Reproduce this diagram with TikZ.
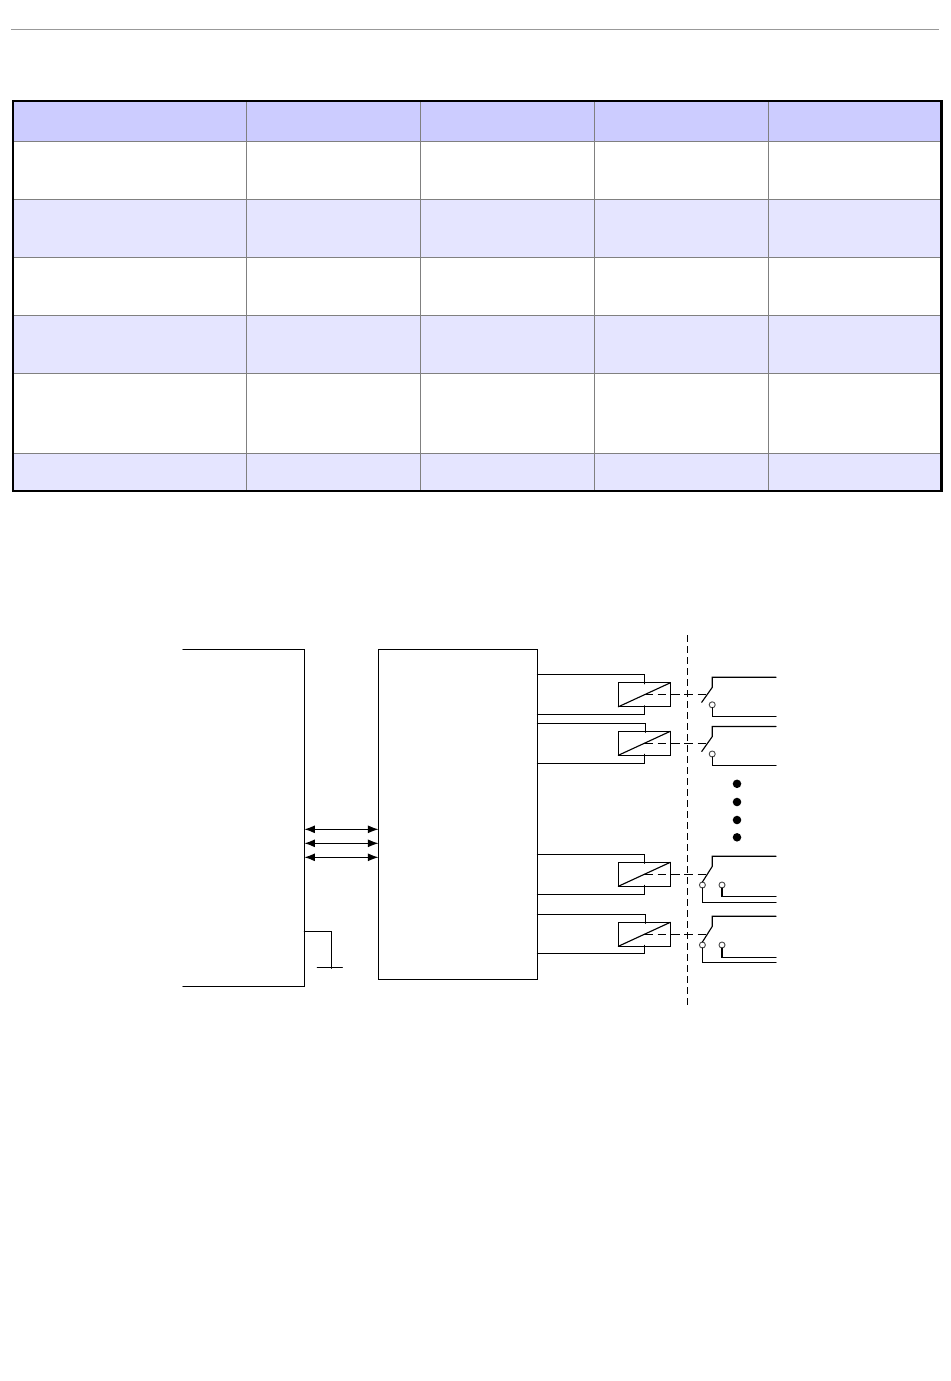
\documentclass[tikz,border=0pt]{standalone}
\usetikzlibrary{arrows.meta,positioning,calc}
\definecolor{headblue}{HTML}{CCCCFF}
\definecolor{rowblue}{HTML}{E5E5FF}
\definecolor{rulegray}{HTML}{808080}
\tikzset{
  wire/.style={line width=0.85pt,line cap=round},
  link/.style={line width=0.85pt,dash pattern=on 6.5pt off 3.5pt},
  barrier/.style={line width=0.85pt,dash pattern=on 5pt off 3.25pt},
  coil/.style={draw,line width=0.85pt,minimum width=39pt,minimum height=18pt,inner sep=0pt,outer sep=0pt},
  block/.style={draw,line width=0.85pt,inner sep=0pt,outer sep=0pt},
  contact/.style={circle,draw=black!70,fill=white,line width=0.7pt,minimum size=4.5pt,inner sep=0pt,outer sep=0pt},
  bus/.style={wire,{Latex[length=8pt,width=6pt]}-{Latex[length=8pt,width=6pt]}},
  grid line/.style={rulegray,line width=0.8pt}
}
\begin{document}
\begin{tikzpicture}[x=0.75pt,y=-0.75pt]
	\useasboundingbox (0,0) rectangle (950,1381);
	%TABLE
	\draw[black!40,line width=0.75pt] (11,29.3) -- (939,29.3);
	\fill[headblue] (13,101) rectangle (941.5,141.5);
	\fill[rowblue] (13,199.4) rectangle (941.5,257.4);
	\fill[rowblue] (13,315.4) rectangle (941.5,373.4);
	\fill[rowblue] (13,453.4) rectangle (941.5,491);
	\foreach \rowy in {141.5,199.4,257.4,315.4,373.4,453.4}
		\draw[grid line] (13,\rowy) -- (941.5,\rowy);
	\foreach \colx in {246.6,420.6,594.5,768.4}
		\draw[grid line] (\colx,101) -- (\colx,491);
	\draw[line width=2.1pt] (13,101) rectangle (941.5,491);
	%BLOCKS
	\draw[wire] (183,649.3) -- (304.3,649.3) -- (304.3,986.3) -- (183,986.3);
	\node[block,minimum width=119.25pt,minimum height=247.5pt] (ctrl) at (458,814.3) {};
	\coordinate (hostedge) at (304.3,0);
	\foreach \busy in {829.3,843.3,857.3}
		\draw[bus] (hostedge |- 0,\busy) -- (ctrl.west |- 0,\busy);
	%GROUND
	\coordinate (gnd) at (331.3,968.3);
	\draw[wire] (hostedge |- 0,931.3) -| (gnd);
	\draw[wire] ($(gnd)+(-14,-1)$) -- ($(gnd)+(11,-1)$);
	%BARRIER
	\coordinate (bartop) at (687.3,635);
	\coordinate (barbot) at (687.3,1006);
	\draw[barrier] (bartop) -- (barbot);
	%RELAYS
	\foreach \name/\ya/\ym/\yb/\xw in {k1/674.3/694.8/714.3/644.3,k2/723.3/743.3/763.3/645.3,k3/854.3/874.3/894.3/644.3,k4/914.3/934.3/953.3/645.3}{
		\node[coil] (\name) at (644.3,\ym) {};
		\draw[wire] (ctrl.east |- 0,\ya) -| (\xw,\ym-11);
		\draw[wire] (ctrl.east |- 0,\yb) -| (644.3,\ym+11);
		\draw[wire] (\name.south west) -- (\name.north east);
		\coordinate (\name arm) at (706,\ym);
		\draw[link] (\name.center) -- (\name arm);
	}
	%SWITCHES, NORMALLY OPEN
	\foreach \name/\ytop/\ybot in {k1/677.3/716.3,k2/726.5/765.3}{
		\node[contact] (\name no) at (712.2,\ytop+27.5) {};
		\draw[wire] (701.7,\ytop+25) -- (712.3,\ytop+10) -- (712.3,\ytop) -- (776,\ytop);
		\draw[wire] (\name no) |- (776,\ybot);
	}
	%SWITCHES, TWO CONTACTS
	\foreach \name/\ytop/\ya/\yb in {k3/856.3/896.3/902.3,k4/916.3/957.3/962.3}{
		\node[contact] (\name nc) at (702.4,\ytop+28.7) {};
		\node[contact] (\name no) at (722,\ytop+28.7) {};
		\draw[wire] (\name nc.north) -- (712.3,\ytop+10) -- (712.3,\ytop) -- (776,\ytop);
		\draw[wire] (\name no) |- (776,\ya);
		\draw[wire] (\name nc) |- (776,\yb);
	}
	%DOTS
	\foreach \doty in {783.8,802,820,837.3}
		\fill (737,\doty) circle (3.2pt);
\end{tikzpicture}
\end{document}
